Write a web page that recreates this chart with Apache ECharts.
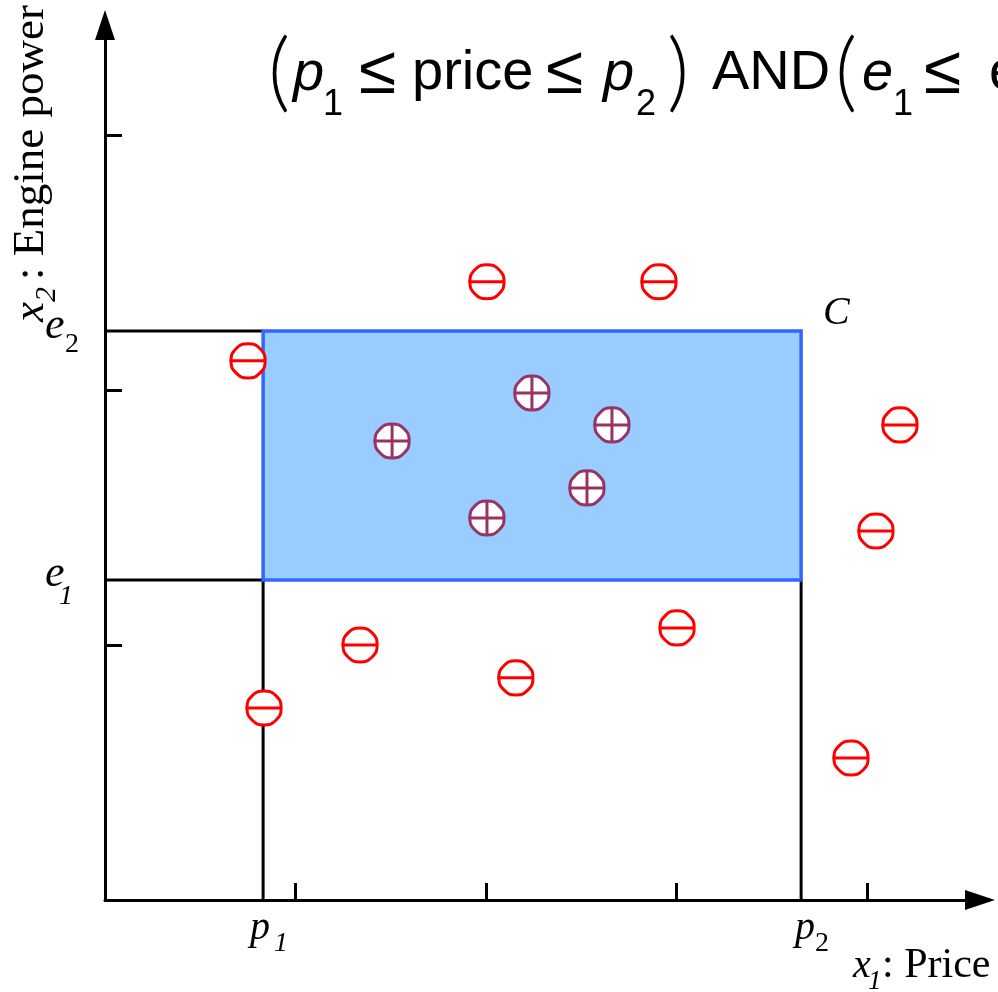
<!DOCTYPE html>
<html>
<head>
<meta charset="utf-8">
<script src="https://cdn.jsdelivr.net/npm/echarts@6/dist/echarts.min.js"></script>
<style>
  html, body { margin: 0; padding: 0; background: #ffffff; }
  #chart { width: 998px; height: 992px; }
</style>
</head>
<body>
<div id="chart"></div>
<script>
// Axis tick positions (in axis units)
const priceTicks = [1, 2, 3, 4];
const powerTicks = [1, 2, 3];

// Concept box C: p1 <= price <= p2, e1 <= power <= e2
const priceBounds = [0.83, 3.654];   // p1, p2
const powerBounds = [1.255, 2.231];  // e1, e2

// Negative examples (outside C)
const negPrice = [2.005, 2.908, 0.751, 4.173, 4.047, 1.339, 3.003, 2.157, 0.835, 3.916];
const negPower = [2.424, 2.424, 2.114, 1.863, 1.447, 1.000, 1.067, 0.871, 0.753, 0.557];

// Positive examples (inside C)
const posPrice = [2.241, 2.661, 1.507, 2.530, 2.005];
const posPower = [1.988, 1.863, 1.800, 1.616, 1.498];

const SANS = '"Liberation Sans", Arial, sans-serif';
const SERIF = '"Liberation Serif", "Times New Roman", serif';
const PAREN = 'Lato, "DejaVu Sans", sans-serif';
const MID = 0.34; // canvas "middle" baseline offset as a fraction of font size

const chart = echarts.init(document.getElementById('chart'), null, { width: 998, height: 992 });

const axisCommon = {
  type: 'value',
  min: 0,
  splitLine: { show: false },
  axisLabel: { show: false },
  axisLine: {
    show: true,
    onZero: false,
    symbol: ['none', 'triangle'],
    symbolSize: [20, 30],
    lineStyle: { color: '#000', width: 3 }
  },
  axisTick: { show: true, inside: true, length: 17, lineStyle: { color: '#000', width: 3 } }
};

function polygonPoints(cx, cy, r) {
  const pts = [];
  for (let i = 0; i < 8; i++) {
    const a = Math.PI / 8 + i * Math.PI / 4;
    pts.push([cx + r * Math.cos(a), cy + r * Math.sin(a)]);
  }
  return pts;
}

function markerRenderer(color, plus) {
  return function (params, api) {
    const c = api.coord([api.value(0), api.value(1)]);
    const r = 17.5;
    const children = [
      { type: 'polygon', shape: { points: polygonPoints(c[0], c[1], r), smooth: 0.25 },
        style: { fill: '#ffffff', stroke: color, lineWidth: 3 } },
      { type: 'line', shape: { x1: c[0] - r - 1, y1: c[1], x2: c[0] + r, y2: c[1] },
        style: { stroke: color, lineWidth: 3 } }
    ];
    if (plus) {
      children.push({ type: 'line', shape: { x1: c[0], y1: c[1] - r, x2: c[0], y2: c[1] + r },
        style: { stroke: color, lineWidth: 3 } });
    }
    return { type: 'group', children };
  };
}

chart.setOption({
  animation: false,
  backgroundColor: '#ffffff',
  grid: { left: 105, right: 18, top: 25, bottom: 92, containLabel: false },
  xAxis: Object.assign({}, axisCommon, {
    max: 4.593,
    axisTick: Object.assign({}, axisCommon.axisTick, { customValues: priceTicks })
  }),
  yAxis: Object.assign({}, axisCommon, {
    max: 3.431,
    axisTick: Object.assign({}, axisCommon.axisTick, { customValues: powerTicks })
  }),
  series: [
    {
      name: 'C',
      type: 'custom',
      clip: false,
      z: 2,
      data: [[priceBounds[0], powerBounds[0], priceBounds[1], powerBounds[1]]],
      renderItem: function (params, api) {
        const o = api.coord([0, 0]);
        const lo = api.coord([api.value(0), api.value(1)]);
        const hi = api.coord([api.value(2), api.value(3)]);
        const blk = { stroke: '#000', lineWidth: 3 };
        return {
          type: 'group',
          children: [
            { type: 'line', shape: { x1: o[0], y1: hi[1], x2: lo[0], y2: hi[1] }, style: blk },
            { type: 'line', shape: { x1: o[0], y1: lo[1], x2: lo[0], y2: lo[1] }, style: blk },
            { type: 'line', shape: { x1: lo[0], y1: lo[1], x2: lo[0], y2: o[1] }, style: blk },
            { type: 'line', shape: { x1: hi[0], y1: lo[1], x2: hi[0], y2: o[1] }, style: blk },
            { type: 'rect', shape: { x: lo[0], y: hi[1], width: hi[0] - lo[0], height: lo[1] - hi[1] },
              style: { fill: '#99ccff', stroke: '#3366ff', lineWidth: 3.5 } }
          ]
        };
      }
    },
    {
      name: 'negative',
      type: 'custom',
      clip: false,
      z: 3,
      data: negPrice.map((p, i) => [p, negPower[i]]),
      renderItem: markerRenderer('#ff0000', false)
    },
    {
      name: 'positive',
      type: 'custom',
      clip: false,
      z: 3,
      data: posPrice.map((p, i) => [p, posPower[i]]),
      renderItem: markerRenderer('#993366', true)
    }
  ]
});

function txt(text, x, base, size, fam, italic, weight) {
  return {
    type: 'text', x: x, y: base - MID * size, z: 100, silent: true,
    style: {
      text: text,
      font: (italic ? 'italic ' : '') + (weight ? weight + ' ' : '') + size + 'px ' + fam,
      fill: '#000',
      textAlign: 'left',
      textVerticalAlign: 'middle',
      verticalAlign: 'middle'
    }
  };
}

const px = (x, y) => chart.convertToPixel({ gridIndex: 0 }, [x, y]);
const o = px(0, 0);
const pLo = px(priceBounds[0], powerBounds[0]);
const pHi = px(priceBounds[1], powerBounds[1]);

// Formula heading
const B = 93, S = 117;
const heading = [
  txt('(', 268, B + 10, 86, PAREN, false, 300),
  txt('p', 293, B, 56, SANS, true),
  txt('1', 323, S, 36, SANS, false),
  txt('\u2264', 359, B + 4, 68, SANS, false),
  txt('price', 412, B, 56, SANS, false),
  txt('\u2264', 546, B + 4, 68, SANS, false),
  txt('p', 603, B, 56, SANS, true),
  txt('2', 636, S, 36, SANS, false),
  txt(')', 667, B + 10, 86, PAREN, false, 300),
  txt('AND', 712, B, 56, SANS, false),
  txt('(', 835, B + 10, 86, PAREN, false, 300),
  txt('e', 862, B, 56, SANS, true),
  txt('1', 893, S, 36, SANS, false),
  txt('\u2264', 924, B + 4, 68, SANS, false),
  txt('engine power', 989, B, 56, SANS, false)
];

// Axis marks for the box bounds
const boundLabels = [
  txt('p', pLo[0] - 13, o[1] + 42, 40, SERIF, true),
  txt('1', pLo[0] + 11, o[1] + 53, 28, SERIF, true),
  txt('p', pHi[0] - 6, o[1] + 42, 40, SERIF, true),
  txt('2', pHi[0] + 14, o[1] + 53, 28, SERIF, false),
  txt('e', o[0] - 60, pHi[1] + 10, 44, SERIF, true),
  txt('2', o[0] - 40, pHi[1] + 23, 28, SERIF, false),
  txt('e', o[0] - 60, pLo[1] + 9, 44, SERIF, true),
  txt('1', o[0] - 46, pLo[1] + 26, 28, SERIF, true),
  txt('C', pHi[0] + 22, pHi[1] - 4, 40, SERIF, true)
];

// Axis titles
const xTitle = [
  txt('x', 853, 980, 40, SERIF, true),
  txt('1', 868, 991, 27, SERIF, true),
  txt(': Price', 882, 980, 42, SERIF, false)
];
const yTitle = {
  type: 'group', x: 46, y: 322, rotation: Math.PI / 2, z: 100,
  children: [
    txt('x', 0, 0, 45, SERIF, true),
    txt('2', 20, 11, 30, SERIF, true),
    txt(': Engine power', 42, 0, 45, SERIF, false)
  ]
};

chart.setOption({
  graphic: heading.concat(boundLabels, xTitle, [yTitle])
});
</script>
</body>
</html>
